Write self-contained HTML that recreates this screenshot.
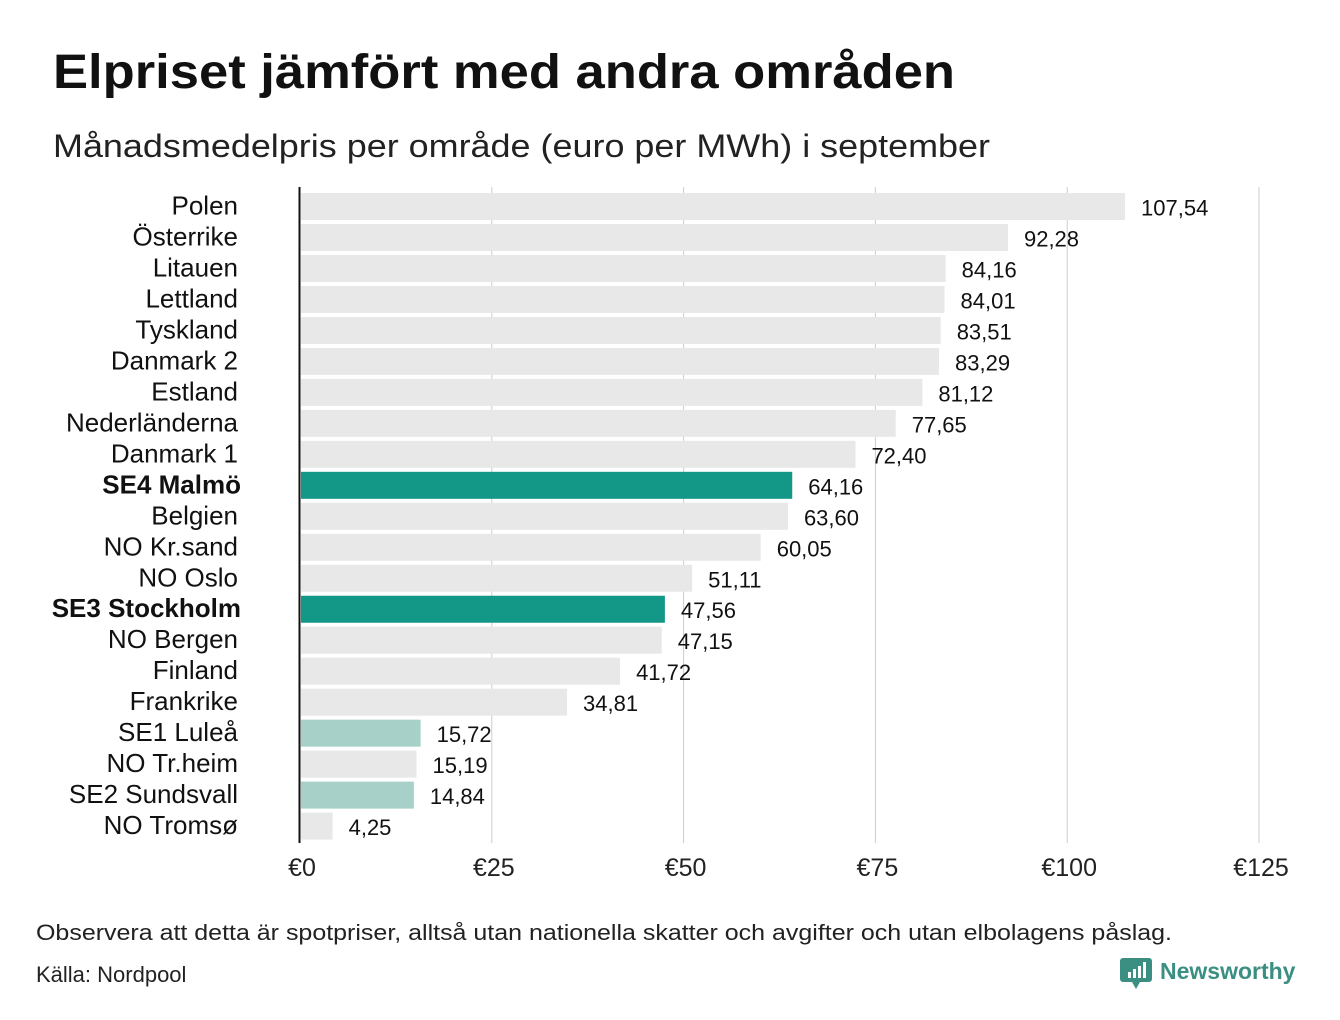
<!DOCTYPE html>
<html><head><meta charset="utf-8"><style>
body{margin:0;background:#fff;}
svg{display:block;font-family:"Liberation Sans","DejaVu Sans",sans-serif;}
</style></head><body>
<svg id="chart" width="1340" height="1020" viewBox="0 0 1340 1020">
<text x="53" y="88" font-size="48" font-weight="bold" fill="#111" textLength="902" lengthAdjust="spacingAndGlyphs">Elpriset jämfört med andra områden</text>
<text x="53" y="157" font-size="32" fill="#222" textLength="937" lengthAdjust="spacingAndGlyphs">Månadsmedelpris per område (euro per MWh) i september</text>
<g id="grid"></g>
<g id="bars"></g>
<line x1="299.5" y1="187" x2="299.5" y2="843" stroke="#111" stroke-width="2"/>
<text x="36" y="940" font-size="22" fill="#222" textLength="1136" lengthAdjust="spacingAndGlyphs">Observera att detta är spotpriser, alltså utan nationella skatter och avgifter och utan elbolagens påslag.</text>
<text x="36" y="982" font-size="22" fill="#222">Källa: Nordpool</text>
<g>
<path d="M1123 958h26a3 3 0 0 1 3 3v18a3 3 0 0 1-3 3h-9l-4 7-4-7h-9a3 3 0 0 1-3-3v-18a3 3 0 0 1 3-3z" fill="#3a8f82"/>
<rect x="1128" y="972" width="3" height="6" fill="#fff"/><rect x="1133" y="969" width="3" height="9" fill="#fff"/><rect x="1138" y="966" width="3" height="12" fill="#fff"/><rect x="1143" y="962" width="3" height="16" fill="#fff"/>
<text x="1160" y="979" font-size="23" font-weight="bold" fill="#3a8f82">Newsworthy</text>
</g>
</svg>
<script>
const categories=["Polen","Österrike","Litauen","Lettland","Tyskland","Danmark  2","Estland","Nederländerna","Danmark  1","SE4 Malmö","Belgien","NO Kr.sand","NO Oslo","SE3 Stockholm","NO Bergen","Finland","Frankrike","SE1  Luleå","NO Tr.heim","SE2  Sundsvall","NO Tromsø"];
const values=[107.54,92.28,84.16,84.01,83.51,83.29,81.12,77.65,72.40,64.16,63.60,60.05,51.11,47.56,47.15,41.72,34.81,15.72,15.19,14.84,4.25];
const kinds=["o","o","o","o","o","o","o","o","o","se","o","o","o","se","o","o","o","sel","o","sel","o"];
const ticks=[0,25,50,75,100,125];
const tickLabels=["€0","€25","€50","€75","€100","€125"];
const NS="http://www.w3.org/2000/svg";
const x0=300,pxPer=7.672,top0=193,pitch=30.98,bh=27;
const xs=v=>x0+v*pxPer, ys=i=>top0+i*pitch;
const grid=document.getElementById('grid'),bars=document.getElementById('bars');
function mk(tag,attrs,parent,txt){const e=document.createElementNS(NS,tag);for(const k in attrs)e.setAttribute(k,attrs[k]);if(txt!=null)e.textContent=txt;parent.appendChild(e);return e;}
ticks.forEach((t,i)=>{
 if(t>0){const l=mk('line',{x1:xs(t),x2:xs(t),y1:187,y2:843,stroke:'#ccc','stroke-width':1},grid);
 
 }
 const tx=mk('text',{x:xs(t)+2,y:876,'font-size':25,fill:'#222','text-anchor':'middle'},grid,tickLabels[i]);
 
 
});
const col={o:'#e8e8e8',se:'#139787',sel:'#a6d0c8'};
categories.forEach((c,i)=>{
 const y=ys(i);
 const r=mk('rect',{x:x0+1,y:y,width:xs(values[i])-x0-1,height:bh,fill:col[kinds[i]]},bars);
 
 
 const bold=kinds[i]=='se';
 const lb=mk('text',{x:bold?241:238,y:y+bh/2+8,'font-size':26,'font-weight':bold?'bold':'normal',fill:'#111','text-anchor':'end','xml:space':'preserve'},bars,c);
 
 
 const vl=mk('text',{x:xs(values[i])+16,y:y+bh/2+9,'font-size':22,fill:'#111'},bars,values[i].toFixed(2).replace('.',','));
 
 
});
</script>
</body></html>
